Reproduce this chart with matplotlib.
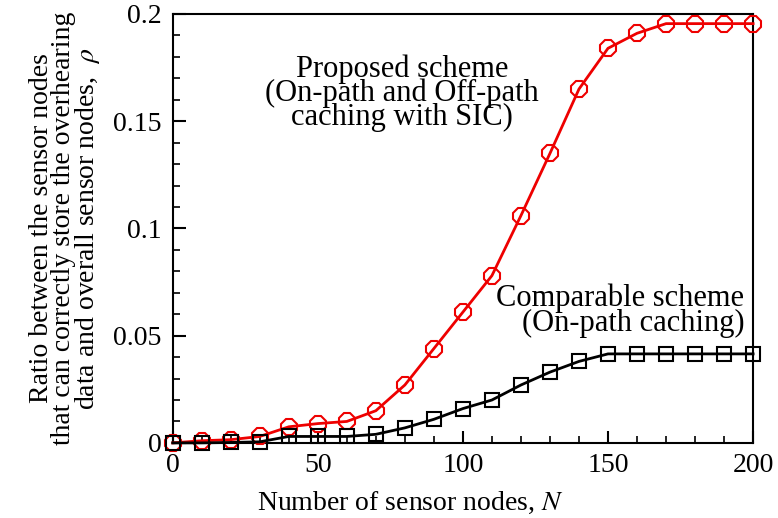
import numpy as np
import matplotlib.pyplot as plt
from matplotlib.ticker import MultipleLocator

plt.rcParams['font.family'] = ['Liberation Serif', 'DejaVu Serif']
plt.rcParams['mathtext.fontset'] = 'stix'

# data
n_nodes = [0, 10, 20, 30, 40, 50, 60, 70, 80, 90, 100,
           110, 120, 130, 140, 150, 160, 170, 180, 190, 200]
proposed = [0.0, 0.001, 0.0015, 0.003, 0.0075, 0.009, 0.01, 0.015, 0.027, 0.044, 0.061,
            0.078, 0.106, 0.135, 0.165, 0.184, 0.191, 0.1955, 0.1955, 0.1955, 0.1955]
comparable = [0.0, 0.0, 0.0002, 0.0005, 0.003, 0.003, 0.003, 0.004, 0.007, 0.011, 0.016,
              0.02, 0.027, 0.033, 0.038, 0.0415, 0.0415, 0.0415, 0.0415, 0.0415, 0.0415]

fig = plt.figure(figsize=(7.78, 5.18), dpi=100)
ax = fig.add_axes([0.222, 0.145, 0.746, 0.828])

ax.plot(n_nodes, proposed, color='#ee0000', lw=2, marker='8', ms=12,
        mfc='none', mec='#ee0000', mew=1.5, clip_on=False, zorder=3)
ax.plot(n_nodes, comparable, color='black', lw=2, marker='s', ms=10,
        mfc='none', mec='black', mew=1.5, clip_on=False, zorder=3)

ax.set_xlim(0, 200)
ax.set_ylim(0, 0.2)
ax.xaxis.set_major_locator(MultipleLocator(50))
ax.xaxis.set_minor_locator(MultipleLocator(10))
ax.yaxis.set_major_locator(MultipleLocator(0.05))
ax.yaxis.set_minor_locator(MultipleLocator(0.01))
ax.set_yticks([0, 0.05, 0.1, 0.15, 0.2])
ax.set_yticklabels(['0', '0.05', '0.1', '0.15', '0.2'])
ax.tick_params(which='both', direction='in', labelsize=20)
ax.tick_params(which='major', length=9, width=1.5)
ax.tick_params(which='minor', length=5, width=1.2)
ax.tick_params(axis='x', pad=7)
ax.tick_params(axis='y', pad=8)
for s in ax.spines.values():
    s.set_linewidth(1.5)

ax.set_xlabel('Number of sensor nodes, $N$', fontsize=20)
ax.xaxis.set_label_coords(0.41, -0.11)
ax.set_ylabel('Ratio between the sensor nodes\nthat can correctly store the overhearing\n'
              'data and overall sensor nodes,  $\\rho$', fontsize=20, linespacing=0.85,
              labelpad=8)

ax.text(79, 0.163, 'Proposed scheme\n(On-path and Off-path\ncaching with SIC)',
        ha='center', va='center', fontsize=22, linespacing=0.75)
ax.text(197, 0.0615, 'Comparable scheme\n(On-path caching)',
        ha='right', va='center', fontsize=22, linespacing=0.8, multialignment='right')

fig.savefig('out.png', dpi=100)
